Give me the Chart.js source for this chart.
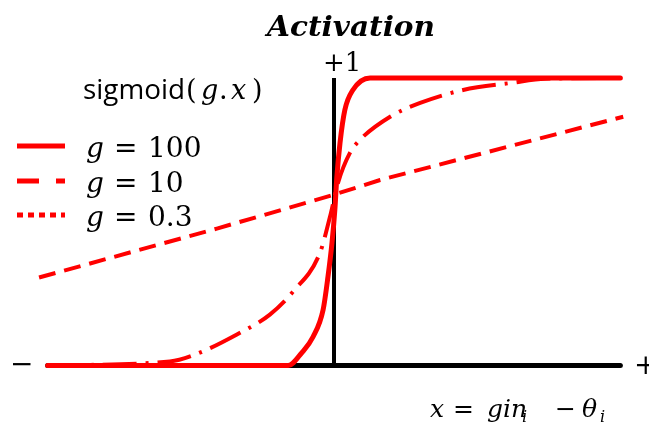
<!DOCTYPE html>
<html>
<head>
<meta charset="utf-8">
<script src="https://cdn.jsdelivr.net/npm/chart.js@4.4.1/dist/chart.umd.min.js"></script>
<style>
  html,body{margin:0;padding:0;background:#fff;overflow:hidden}
  #wrap{width:649px;height:423px}
</style>
</head>
<body>
<div id="wrap"><canvas id="chart" width="649" height="423"></canvas></div>
<script>
// input x normalised to [-1, 1], activation in [0, 1]
const steepX = [-1, -0.16, -0.112, -0.073, -0.038, -0.021, -0.007, 0.003, 0.010, 0.021, 0.038, 0.066, 0.126, 1];
const steepY = [0, 0, 0.045, 0.10, 0.194, 0.309, 0.427, 0.542, 0.656, 0.774, 0.889, 0.958, 1, 1];

const midX = [-1, -0.573, -0.493, -0.339, -0.224, -0.143, -0.049, -0.014, 0.014, 0.056, 0.091, 0.196, 0.301, 0.451, 0.622, 0.738, 1];
const midY = [0, 0.014, 0.035, 0.108, 0.177, 0.257, 0.392, 0.517, 0.635, 0.740, 0.785, 0.865, 0.913, 0.958, 0.983, 0.997, 1];

const flatX = [-1.03, -0.409, 0, 0.161, 1.01];
const flatY = [0.306, 0.476, 0.594, 0.645, 0.865];

const legendLabels = ['100', '10', '0.3'];

const RED = '#ff0000';
const pts = (xs, ys) => xs.map((v, i) => ({x: v, y: ys[i]}));

// legend samples: solid, long-short dash, dotted
const legendDash = [[], [22, 17], [6, 5]];

function fitText(ctx, str, font, left, base, width){
  ctx.font = font;
  const w = ctx.measureText(str).width;
  ctx.save();
  ctx.translate(left, base);
  ctx.scale(width / w, 1);
  ctx.fillText(str, 0, 0);
  ctx.restore();
}

function runs(ctx, list, base){
  list.forEach(([str, font, left, dy]) => {
    ctx.font = font;
    ctx.fillText(str, left, base + (dy || 0));
  });
}

const SERIF = '"DejaVu Serif"';

const labelsPlugin = {
  id: 'labels',
  afterDraw(chart){
    const {ctx, scales:{x, y}} = chart;
    const x0 = x.getPixelForValue(0);
    const y0 = y.getPixelForValue(0);
    const y1 = y.getPixelForValue(1);
    ctx.save();
    ctx.fillStyle = '#000';
    ctx.textBaseline = 'alphabetic';
    ctx.textAlign = 'left';

    fitText(ctx, 'Activation', 'italic bold 28px ' + SERIF, 267, 36, 168);

    ctx.font = '26px ' + SERIF;
    ctx.fillText('+1', x0 - 11, y1 - 7);

    fitText(ctx, 'sigmoid', '27px "Open Sans"', 83, 99, 102);
    runs(ctx, [
      ['(', '27px ' + SERIF, 186],
      ['g', 'italic 27px ' + SERIF, 201],
      ['.', '27px ' + SERIF, 219],
      ['x', 'italic 27px ' + SERIF, 231],
      [')', '27px ' + SERIF, 252]
    ], 99);

    // axis end marks
    ctx.font = '28px ' + SERIF;
    ctx.fillText('\u2212', 10, y0 + 8);
    ctx.fillText('+', 634, y0 + 9);

    // legend
    const rows = [157, 192, 226];
    legendLabels.forEach((lab, i) => {
      const ly = rows[i] - 11;
      ctx.save();
      ctx.strokeStyle = RED;
      ctx.lineWidth = 5;
      ctx.lineCap = 'butt';
      ctx.setLineDash(legendDash[i]);
      ctx.beginPath();
      ctx.moveTo(17, ly);
      ctx.lineTo(65, ly);
      ctx.stroke();
      ctx.restore();
      runs(ctx, [
        ['g', 'italic 28px ' + SERIF, 86],
        ['=', '28px ' + SERIF, 114],
        [lab, '28px ' + SERIF, 148]
      ], rows[i]);
    });

    // x = gin_i - theta_i
    runs(ctx, [
      ['x', 'italic 25px ' + SERIF, 430],
      ['=', '25px ' + SERIF, 453],
      ['gin', 'italic 25px ' + SERIF, 487],
      ['i', 'italic 16px ' + SERIF, 522, 5],
      ['\u2212', '25px ' + SERIF, 555],
      ['\u03b8', 'italic 25px ' + SERIF, 582],
      ['i', 'italic 16px ' + SERIF, 600, 5]
    ], 417);
    ctx.restore();
  }
};

new Chart(document.getElementById('chart'), {
  type: 'scatter',
  data: {
    datasets: [
      {label: 'g = 100', data: pts(steepX, steepY), showLine: true, borderColor: RED, borderWidth: 5,
       cubicInterpolationMode: 'monotone', borderCapStyle: 'round', pointRadius: 0, order: 1},
      {label: 'g = 10', data: pts(midX, midY), showLine: true, borderColor: RED, borderWidth: 4,
       cubicInterpolationMode: 'monotone', borderDash: [34, 9, 3, 9], pointRadius: 0, order: 2},
      {label: 'g = 0.3', data: pts(flatX, flatY), showLine: true, borderColor: RED, borderWidth: 4,
       tension: 0, borderDash: [17, 9], pointRadius: 0, order: 3},
      {label: 'x axis', data: [{x: -1, y: 0}, {x: 1, y: 0}], showLine: true, borderColor: '#000',
       borderWidth: 5, borderCapStyle: 'round', pointRadius: 0, order: 10},
      {label: 'y axis', data: [{x: 0, y: 0}, {x: 0, y: 1}], showLine: true, borderColor: '#000',
       borderWidth: 4, pointRadius: 0, order: 11}
    ]
  },
  options: {
    responsive: false,
    animation: false,
    devicePixelRatio: 1,
    layout: {padding: {left: 19, right: 0, top: 6, bottom: 0}},
    scales: {
      x: {type: 'linear', min: -1.1, max: 1.1, display: false},
      y: {type: 'linear', min: -0.2, max: 1.25, display: false}
    },
    plugins: {legend: {display: false}, tooltip: {enabled: false}}
  },
  plugins: [labelsPlugin]
});
</script>
</body>
</html>
